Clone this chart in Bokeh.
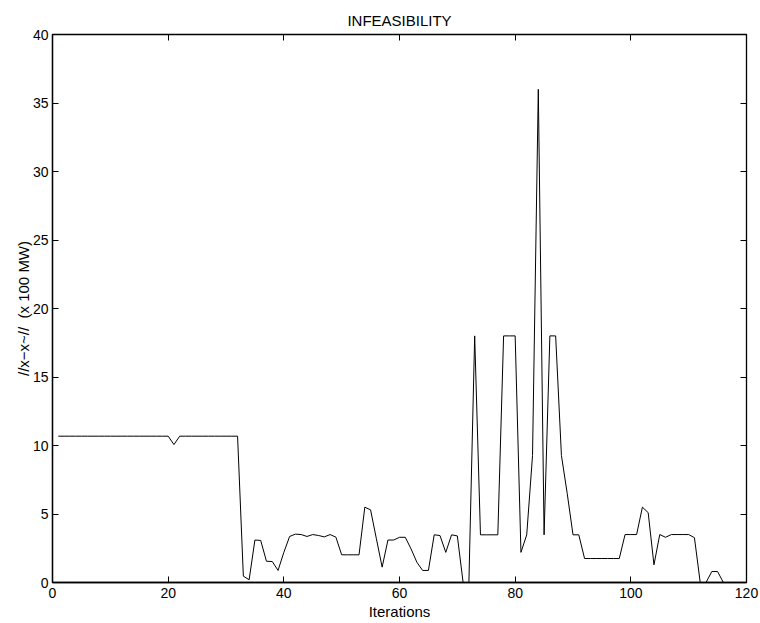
from bokeh.plotting import figure
from bokeh.models import LinearAxis, FixedTicker, CustomJSTickFormatter
from bokeh.embed import file_html
from bokeh.resources import INLINE

iterations = list(range(1, 117))
infeasibility = [
    10.68, 10.68, 10.68, 10.68, 10.68, 10.68, 10.68, 10.68, 10.68, 10.68,   # 1-10
    10.68, 10.68, 10.68, 10.68, 10.68, 10.68, 10.68, 10.68, 10.68, 10.68,   # 11-20
    10.07, 10.68, 10.68, 10.68, 10.68, 10.68, 10.68, 10.68, 10.68, 10.68,   # 21-30
    10.68, 10.68, 0.46, 0.2, 3.1, 3.07, 1.55, 1.53, 0.88, 2.2,             # 31-40
    3.36, 3.53, 3.5, 3.36, 3.5, 3.43, 3.33, 3.5, 3.31, 2.02,                # 41-50
    2.02, 2.02, 2.02, 5.5, 5.3, 3.2, 1.12, 3.1, 3.1, 3.3,                   # 51-60
    3.3, 2.45, 1.48, 0.88, 0.88, 3.48, 3.43, 2.2, 3.48, 3.4,                # 61-70
    0.0, 0.0, 18.0, 3.48, 3.48, 3.48, 3.48, 18.0, 18.0, 18.0,               # 71-80
    2.2, 3.48, 9.27, 36.0, 3.48, 18.0, 18.0, 9.27, 6.5, 3.48,               # 81-90
    3.48, 1.75, 1.75, 1.75, 1.75, 1.75, 1.75, 1.75, 3.5, 3.5,               # 91-100
    3.5, 5.5, 5.1, 1.29, 3.5, 3.3, 3.5, 3.5, 3.5, 3.5,                      # 101-110
    3.27, 0.0, 0.0, 0.8, 0.8, 0.0,                                          # 111-116
]
x_ticks = [0, 20, 40, 60, 80, 100, 120]
y_ticks = [0, 5, 10, 15, 20, 25, 30, 35, 40]

FONT = "Liberation Sans"

p = figure(width=760, height=623, x_range=(0, 120), y_range=(0, 40),
           output_backend="svg", toolbar_location=None,
           min_border_left=52, min_border_right=14,
           min_border_top=34, min_border_bottom=41,
           title="INFEASIBILITY")
p.title.align = "center"
p.title.text_font = FONT
p.title.text_font_size = "15px"
p.title.text_font_style = "normal"
p.title.text_color = "black"
p.title.standoff = 12

p.outline_line_color = "black"
p.outline_line_alpha = 1.0
p.outline_line_width = 1.3
p.xgrid.visible = False
p.ygrid.visible = False

for ax, ticks in ((p.xaxis[0], x_ticks), (p.yaxis[0], y_ticks)):
    ax.ticker = FixedTicker(ticks=ticks)
    ax.major_tick_in = 6
    ax.major_tick_out = 0
    ax.minor_tick_in = 0
    ax.minor_tick_out = 0
    ax.axis_line_color = "black"
    ax.axis_line_width = 1.3
    ax.major_tick_line_color = "black"
    ax.major_label_text_font = FONT
    ax.major_label_text_font_size = "14px"
    ax.major_label_text_color = "black"
    ax.axis_label_text_font = FONT
    ax.axis_label_text_font_size = "15px"
    ax.axis_label_text_font_style = "normal"
    ax.axis_label_text_color = "black"

p.xaxis.axis_label = "Iterations"
p.xaxis.major_label_standoff = 5
p.xaxis.axis_label_standoff = 2
p.yaxis.axis_label = "//x\u2212x~//\u00a0 (x 100 MW)"
p.yaxis.major_label_standoff = 4
p.yaxis.axis_label_standoff = -2

blank = CustomJSTickFormatter(code="return ''")
top_axis = LinearAxis(ticker=FixedTicker(ticks=x_ticks), formatter=blank,
                      major_tick_in=6, major_tick_out=0, minor_tick_in=0, minor_tick_out=0,
                      major_label_standoff=0, axis_line_color=None)
right_axis = LinearAxis(ticker=FixedTicker(ticks=y_ticks), formatter=blank,
                        major_tick_in=6, major_tick_out=0, minor_tick_in=0, minor_tick_out=0,
                        major_label_standoff=0, axis_line_color=None)
p.add_layout(top_axis, "above")
p.add_layout(right_axis, "right")

p.line(iterations, infeasibility, line_color="black", line_width=1)

open("out.html", "w").write(file_html(p, INLINE))
